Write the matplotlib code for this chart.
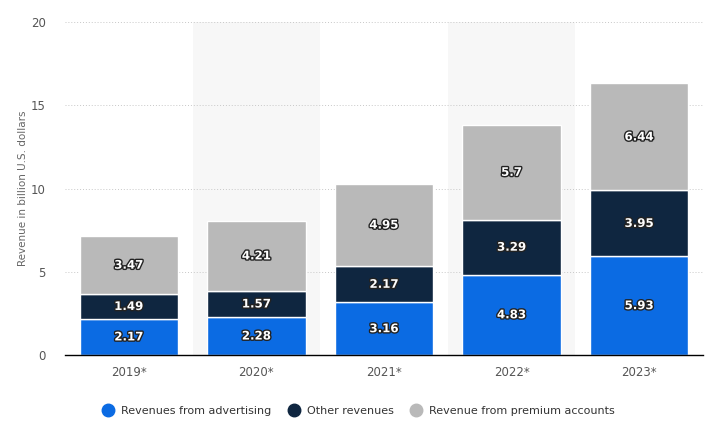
import matplotlib.pyplot as plt
import matplotlib.patheffects as pe
from matplotlib.lines import Line2D

years = ["2019*", "2020*", "2021*", "2022*", "2023*"]
advertising = [2.17, 2.28, 3.16, 4.83, 5.93]
other = [1.49, 1.57, 2.17, 3.29, 3.95]
premium = [3.47, 4.21, 4.95, 5.7, 6.44]

series = [
    ("Revenues from advertising", advertising, "#0b6be3"),
    ("Other revenues", other, "#0f2640"),
    ("Revenue from premium accounts", premium, "#b9b9b9"),
]


def plot_revenue():
    fig = plt.figure(figsize=(7.12, 4.3), dpi=100)
    ax = fig.add_axes([65 / 712, 1 - 355 / 430, 638 / 712, 333 / 430])
    x = list(range(len(years)))

    # alternating background bands
    for i in x:
        if i % 2 == 1:
            ax.axvspan(i - 0.5, i + 0.5, color="#f7f7f7", zorder=0, lw=0)

    for yv in [5, 10, 15, 20]:
        ax.axhline(yv, color="#c8c8c8", lw=0.7, ls=(0, (1, 2)), zorder=1)

    bottoms = [0] * len(years)
    for name, vals, col in series:
        ax.bar(x, vals, width=0.77, bottom=bottoms, color=col,
               edgecolor="white", linewidth=1, zorder=2)
        for i, v in enumerate(vals):
            ax.text(i, bottoms[i] + v / 2, f"{v:g}", ha="center", va="center",
                    color="white", fontsize=8.5, fontweight="bold", zorder=3,
                    path_effects=[pe.withStroke(linewidth=2, foreground="#222222")])
        bottoms = [b + v for b, v in zip(bottoms, vals)]

    ax.set_xlim(-0.5, len(years) - 0.5)
    ax.set_ylim(0, 20)
    ax.set_yticks([0, 5, 10, 15, 20])
    ax.set_xticks(x)
    ax.set_xticklabels(years)
    ax.tick_params(axis="both", length=0, labelsize=8.5, colors="#555555")
    ax.tick_params(axis="y", pad=14)
    ax.tick_params(axis="x", pad=8)
    ax.set_ylabel("Revenue in billion U.S. dollars", fontsize=7.5, color="#666666", labelpad=2)
    for s in ["top", "right", "left"]:
        ax.spines[s].set_visible(False)
    ax.spines["bottom"].set_color("black")
    ax.spines["bottom"].set_linewidth(1)
    ax.spines["bottom"].set_zorder(4)

    handles = [Line2D([], [], marker="o", ls="", markersize=9, color=c,
                      label=n) for n, _, c in series]
    fig.legend(handles=handles, loc="center", bbox_to_anchor=(0.5, 1 - 411 / 430),
               ncol=3, frameon=False, fontsize=8, handletextpad=0.2,
               columnspacing=1.0, labelcolor="#333333")

    fig.savefig("out.png", dpi=100)


if __name__ == "__main__":
    plot_revenue()
